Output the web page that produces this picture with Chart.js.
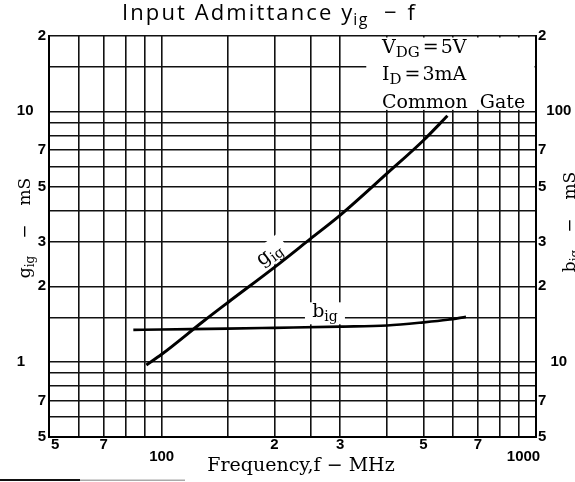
<!DOCTYPE html>
<html><head><meta charset="utf-8">
<script src="https://cdn.jsdelivr.net/npm/chart.js@4.4.1/dist/chart.umd.min.js"></script>
<style>html,body{margin:0;padding:0;background:#fff;}#wrap{width:575px;height:482px;}</style>
</head><body><div id="wrap"><canvas id="c" width="575" height="482"></canvas></div>
<script>
// ---- data ----
const gFreq = [91, 100, 130, 150, 200, 250, 300, 400, 500, 580];
const gVal  = [0.97, 1.07, 1.46, 1.72, 2.38, 3.1, 3.85, 5.65, 7.65, 9.6];
const bFreq = [84, 100, 150, 200, 300, 400, 500, 580, 650];
const bVal  = [13.4, 13.45, 13.55, 13.65, 13.8, 13.95, 14.35, 14.7, 15.1];

const xGridTicks = [50,60,70,80,90,100,150,200,250,300,400,500,600,700,800,900,1000];
const xTickLabels = {50:'\u00A0\u00A0\u00A05', 70:'7', 100:['', '100'], 200:'2', 300:'3', 500:'5', 700:'7',
  1000:['', '1000\u00A0\u00A0\u00A0\u00A0\u00A0\u00A0']};
const yGridTicks = [0.5,0.6,0.7,0.8,0.9,1,1.5,2,3,4,5,6,7,8,9,10,15,20];
const yTickLabels = {0.5:'5', 0.7:'7', 1:'1\u00A0\u00A0\u00A0\u00A0\u00A0', 2:'2', 3:'3', 5:'5', 7:'7',
  10:'10\u00A0\u00A0\u00A0', 20:'2'};
const y2Ticks = [5,7,10,20,30,50,70,100,200];
const y2TickLabels = {5:'5', 7:'7', 10:'\u00A0\u00A0\u00A010', 20:'2', 30:'3', 50:'5', 70:'7',
  100:'\u00A0\u00A0100', 200:'2'};

const SERIF = '"DejaVu Serif", "Liberation Serif", serif';
const SANS = '"Open Sans", sans-serif';
const TICKFONT = {family: '"Liberation Sans", Arial, sans-serif', size: 15, weight: 'bold', lineHeight: 0.8};

function drawParts(ctx, parts, x, y) {
  let cx = x;
  for (const p of parts) {
    cx += p.gap || 0;
    ctx.font = p.font;
    ctx.fillText(p.t, cx, y + (p.dy || 0));
    cx += ctx.measureText(p.t).width;
  }
  return cx;
}
function partsWidth(ctx, parts) {
  let w = 0;
  for (const p of parts) { w += p.gap || 0; ctx.font = p.font; w += ctx.measureText(p.t).width; }
  return w;
}

const overlay = {
  id: 'overlay',
  beforeDatasetsDraw(chart) {
    const {ctx, chartArea: a, scales: {x, y}} = chart;
    ctx.save();
    ctx.fillStyle = '#fff';
    const bx = x.getPixelForValue(352);
    const by = y.getPixelForValue(10);
    ctx.fillRect(bx, a.top + 1.5, a.right - 1.5 - bx, by - 1.5 - a.top - 1.5);
    const bl = {x: x.getPixelForValue(273), y: y.getPixelForValue(1.56)};
    ctx.fillRect(bl.x - 20, bl.y - 11, 40, 22);
    const gl = {x: x.getPixelForValue(196), y: y.getPixelForValue(2.62)};
    ctx.translate(gl.x, gl.y);
    ctx.rotate(-37 * Math.PI / 180);
    ctx.fillRect(-19, -15, 38, 23);
    ctx.restore();
  },
  afterDatasetsDraw(chart) {
    const {ctx, scales: {x, y}} = chart;
    ctx.save();
    ctx.fillStyle = '#000';
    ctx.textBaseline = 'alphabetic';
    ctx.textAlign = 'left';
    const f19 = '19px ' + SERIF, f15 = '15px ' + SERIF;
    drawParts(ctx, [{t:'V', font:f19}, {t:'DG', font:f15, dy:4}, {t:'=', font:f19, gap:3}, {t:'5V', font:f19, gap:2}], 382, 53);
    drawParts(ctx, [{t:'I', font:f19}, {t:'D', font:f15, dy:4}, {t:'=', font:f19, gap:3}, {t:'3mA', font:f19, gap:2}], 382, 80);
    drawParts(ctx, [{t:'Common  Gate', font:f19}], 382, 108);
    const bl = {x: x.getPixelForValue(273), y: y.getPixelForValue(1.56)};
    const bParts = [{t:'b', font:'19px ' + SERIF}, {t:'ig', font:'14px ' + SERIF, dy:4}];
    drawParts(ctx, bParts, bl.x - partsWidth(ctx, bParts) / 2, bl.y + 4);
    const gl = {x: x.getPixelForValue(196), y: y.getPixelForValue(2.62)};
    ctx.save();
    ctx.translate(gl.x, gl.y);
    ctx.rotate(-37 * Math.PI / 180);
    const gParts = [{t:'g', font:'20px ' + SERIF}, {t:'ig', font:'14px ' + SERIF, dy:4}];
    drawParts(ctx, gParts, -partsWidth(ctx, gParts) / 2, 2);
    ctx.restore();
    ctx.restore();
  },
  afterDraw(chart) {
    const {ctx} = chart;
    ctx.save();
    ctx.fillStyle = '#000';
    ctx.textBaseline = 'alphabetic';
    ctx.textAlign = 'left';
    const hasLS = ('letterSpacing' in ctx);
    if (hasLS) ctx.letterSpacing = '2.1px';
    let ex = drawParts(ctx, [{t:'Input Admittance y', font:'22px ' + SANS}], 122, 20);
    if (hasLS) ctx.letterSpacing = '1.5px';
    ex = drawParts(ctx, [{t:'ig', font:'16px ' + SANS, dy:5}], ex - 1, 20);
    if (hasLS) ctx.letterSpacing = '0px';
    drawParts(ctx, [{t:'\u2212', font:'22px ' + SANS, gap:15}, {t:'f', font:'22px ' + SANS, gap:11}], ex, 20);
    const axisTitle = (cx, cy, base, letter) => {
      const parts = [{t:letter, font:'17px ' + SERIF}, {t:'ig', font:'12px ' + SERIF, dy:4},
        {t:'\u2212', font:'17px ' + SERIF, gap:17}, {t:'mS', font:'17px ' + SERIF, gap:19}];
      ctx.save();
      ctx.translate(cx, cy);
      ctx.rotate(-Math.PI / 2);
      drawParts(ctx, parts, -partsWidth(ctx, parts) / 2, base);
      ctx.restore();
    };
    axisTitle(24, 228, 6, 'g');
    axisTitle(567, 222, 8, 'b');
    const xt = [{t:'Frequency,f \u2212 MHz', font:'19px ' + SERIF}];
    drawParts(ctx, xt, 301 - partsWidth(ctx, xt) / 2, 471);
    ctx.fillStyle = '#111';
    ctx.fillRect(0, 479, 80, 2);
    ctx.fillStyle = '#aaa';
    ctx.fillRect(80, 479.5, 105, 1.5);
    ctx.restore();
  }
};

const gridStyle = {color: '#111', lineWidth: 1.6, drawTicks: false};
const borderStyle = {display: true, color: '#000', width: 2};

new Chart(document.getElementById('c'), {
  type: 'line',
  data: {
    datasets: [
      {label: 'gig', data: gFreq.map((f, i) => ({x: f, y: gVal[i]})), yAxisID: 'y',
       borderColor: '#000', borderWidth: 3, pointRadius: 0, fill: false, cubicInterpolationMode: 'monotone'},
      {label: 'big', data: bFreq.map((f, i) => ({x: f, y: bVal[i]})), yAxisID: 'y2',
       borderColor: '#000', borderWidth: 2.6, pointRadius: 0, fill: false, cubicInterpolationMode: 'monotone'}
    ]
  },
  options: {
    responsive: false, animation: false, devicePixelRatio: 1, events: [],
    layout: {padding: {top: 36, left: 0, right: 0, bottom: 0}},
    plugins: {legend: {display: false}, tooltip: {enabled: false}, title: {display: false}},
    scales: {
      x: {
        type: 'logarithmic', min: 50, max: 1000, position: 'bottom',
        afterBuildTicks: s => { s.ticks = xGridTicks.map(v => ({value: v})); },
        afterFit: s => { s.height = 45; },
        grid: gridStyle, border: borderStyle,
        ticks: {autoSkip: false, maxRotation: 0, minRotation: 0, padding: 2, color: '#000', font: TICKFONT,
          callback: v => xTickLabels[v] ?? ''}
      },
      y: {
        type: 'logarithmic', min: 0.5, max: 20, position: 'left',
        afterBuildTicks: s => { s.ticks = yGridTicks.map(v => ({value: v})); },
        afterFit: s => { s.width = 49; },
        grid: gridStyle, border: borderStyle,
        ticks: {autoSkip: false, padding: 3, color: '#000', font: TICKFONT,
          callback: v => yTickLabels[v] ?? ''}
      },
      y2: {
        type: 'logarithmic', min: 5, max: 200, position: 'right',
        afterBuildTicks: s => { s.ticks = y2Ticks.map(v => ({value: v})); },
        afterFit: s => { s.width = 39; },
        grid: {display: false, drawTicks: false}, border: borderStyle,
        ticks: {autoSkip: false, padding: 2, color: '#000', font: TICKFONT,
          callback: v => y2TickLabels[v] ?? ''}
      }
    }
  },
  plugins: [overlay]
});
</script>
</body></html>
